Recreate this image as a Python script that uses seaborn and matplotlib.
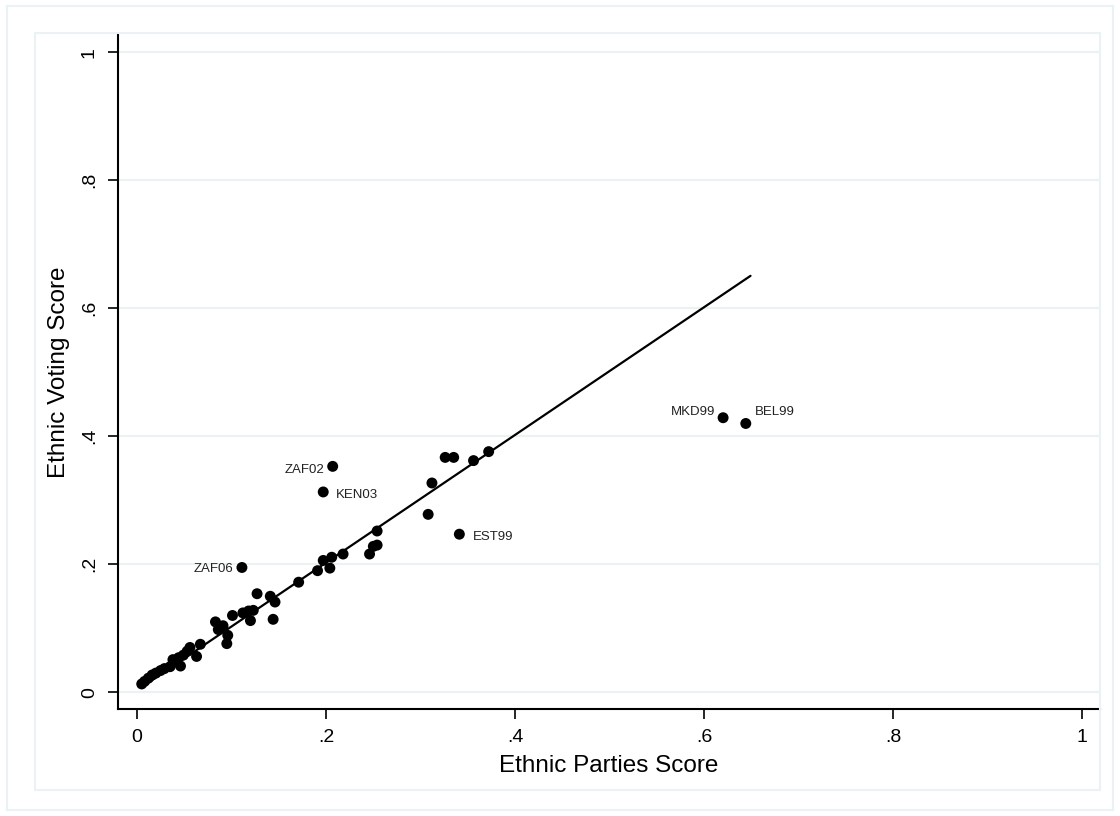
import numpy as np
import pandas as pd
import matplotlib
matplotlib.use("Agg")
import matplotlib.pyplot as plt
from matplotlib.patches import Rectangle
import seaborn as sns

# values
parties_score = [
    0.005, 0.008, 0.012, 0.016, 0.020, 0.025, 0.029, 0.035, 0.038, 0.044,
    0.046, 0.049, 0.053, 0.056, 0.063, 0.067, 0.083, 0.086, 0.091, 0.096,
    0.095, 0.101, 0.112, 0.118, 0.123, 0.120, 0.127, 0.141, 0.146, 0.144,
    0.171, 0.191, 0.197, 0.204, 0.206, 0.218, 0.246, 0.250, 0.254, 0.254,
    0.308, 0.312, 0.326, 0.335, 0.356, 0.372,
    0.111, 0.207, 0.197, 0.341, 0.620, 0.644,
]
voting_score = [
    0.013, 0.017, 0.022, 0.027, 0.030, 0.034, 0.037, 0.040, 0.051, 0.054,
    0.041, 0.058, 0.064, 0.070, 0.056, 0.075, 0.110, 0.098, 0.104, 0.089,
    0.076, 0.120, 0.124, 0.127, 0.128, 0.112, 0.154, 0.150, 0.141, 0.114,
    0.172, 0.190, 0.206, 0.194, 0.211, 0.216, 0.216, 0.228, 0.230, 0.252,
    0.278, 0.327, 0.367, 0.367, 0.362, 0.376,
    0.195, 0.353, 0.313, 0.247, 0.429, 0.420,
]
case_labels = [""] * 46 + ["ZAF06", "ZAF02", "KEN03", "EST99", "MKD99", "BEL99"]

fit_intercept = 0.003
fit_slope = 0.998

x_ticks = [0, 0.2, 0.4, 0.6, 0.8, 1]
tick_labels = ["0", ".2", ".4", ".6", ".8", "1"]

# label placement (pixels from the marker, Stata mlabpos style)
label_offsets = {
    "ZAF06": (-9, -2, "right"),
    "ZAF02": (-8, -4, "right"),
    "KEN03": (13, -3, "left"),
    "EST99": (14, -3, "left"),
    "MKD99": (-8, 6, "right"),
    "BEL99": (9, 11, "left"),
}

df = pd.DataFrame({"parties": parties_score, "voting": voting_score, "label": case_labels})
line_x = np.array([df["parties"].min(), df["parties"].max() + 0.005])
line_df = pd.DataFrame({"parties": line_x, "voting": fit_intercept + fit_slope * line_x})

sns.set_theme(style="white")
plt.rcParams["font.family"] = ["Liberation Sans", "DejaVu Sans"]

grid_col = "#EAF2F3"
fig = plt.figure(figsize=(11.2, 8.16), dpi=100)
W, H = 1120, 816

# Stata-like graph region and plot region borders
fig.patches.append(Rectangle((7 / W, 1 - 810 / H), 1106 / W, 804 / H, transform=fig.transFigure,
                             fill=False, ec=grid_col, lw=1.5, zorder=0))
fig.patches.append(Rectangle((35 / W, 1 - 790 / H), 1065 / W, 757 / H, transform=fig.transFigure,
                             fill=False, ec=grid_col, lw=1.5, zorder=0))

ax = fig.add_axes([118 / W, 1 - 709.3 / H, 982 / W, 674.3 / H])
ax.set_facecolor("none")

sns.lineplot(data=line_df, x="parties", y="voting", ax=ax, color="black", lw=1.6, zorder=2)
sns.scatterplot(data=df, x="parties", y="voting", ax=ax, color="black", s=62,
                edgecolor="none", zorder=3)

for _, row in df[df["label"] != ""].iterrows():
    dx, dy, ha = label_offsets[row["label"]]
    ax.annotate(row["label"], (row["parties"], row["voting"]), xytext=(dx, dy),
                textcoords="offset pixels", ha=ha, va="center", fontsize=9.5, color="#222222")

ax.set_xlim(-0.0201, 1.0187)
ax.set_ylim(-0.0266, 1.027)
ax.set_xticks(x_ticks)
ax.set_xticklabels(tick_labels)
ax.set_yticks(x_ticks)
ax.set_yticklabels(tick_labels, rotation=90, va="center")

for y in x_ticks:
    ax.axhline(y, color=grid_col, lw=1.5, zorder=0)

sns.despine(ax=ax)
for s in ["left", "bottom"]:
    ax.spines[s].set_color("black")
    ax.spines[s].set_linewidth(1.5)
ax.tick_params(axis="both", which="major", direction="out", length=7.5, width=1.2,
               color="black", labelsize=14, labelcolor="black", pad=7, bottom=True, left=True)

ax.set_xlabel("Ethnic Parties Score", fontsize=17.5, color="black", labelpad=6)
ax.set_ylabel("Ethnic Voting Score", fontsize=17.5, color="black", labelpad=8)

fig.savefig("out.png", dpi=100)
